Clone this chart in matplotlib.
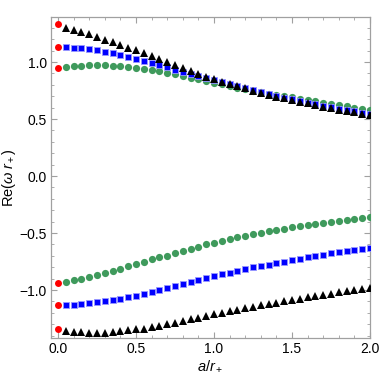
import matplotlib
matplotlib.use("Agg")
import matplotlib.pyplot as plt
from matplotlib.ticker import MultipleLocator

plt.rcParams['font.family'] = ['Liberation Sans', 'DejaVu Sans']
plt.rcParams['mathtext.fontset'] = 'custom'
plt.rcParams['mathtext.rm'] = 'Liberation Sans'
plt.rcParams['mathtext.it'] = 'Liberation Sans:italic'

# spin values a/r+ (0.05 .. 2.0)
a = [round(0.05 * k, 2) for k in range(1, 41)]

# upper branch
green_up = [0.956, 0.962, 0.968, 0.971, 0.971, 0.971, 0.968, 0.965, 0.959, 0.950,
            0.941, 0.932, 0.921, 0.908, 0.894, 0.879, 0.864, 0.849, 0.834, 0.819,
            0.804, 0.789, 0.775, 0.761, 0.747, 0.735, 0.722, 0.710, 0.699, 0.689,
            0.678, 0.667, 0.656, 0.645, 0.635, 0.625, 0.612, 0.600, 0.590, 0.580]
blue_up = [1.129, 1.126, 1.120, 1.111, 1.102, 1.090, 1.076, 1.061, 1.044, 1.026,
           1.009, 0.991, 0.971, 0.953, 0.934, 0.914, 0.895, 0.876, 0.858, 0.840,
           0.822, 0.804, 0.786, 0.769, 0.752, 0.735, 0.718, 0.702, 0.687, 0.672,
           0.658, 0.644, 0.630, 0.617, 0.604, 0.592, 0.580, 0.568, 0.557, 0.546]
black_up = [1.295, 1.278, 1.261, 1.243, 1.219, 1.196, 1.173, 1.149, 1.126, 1.103,
            1.076, 1.053, 1.029, 1.002, 0.975, 0.948, 0.922, 0.897, 0.873, 0.851,
            0.829, 0.808, 0.788, 0.768, 0.749, 0.731, 0.713, 0.697, 0.682, 0.667,
            0.652, 0.637, 0.622, 0.608, 0.594, 0.582, 0.570, 0.558, 0.546, 0.535]

# lower branch
green_lo = [-0.930, -0.915, -0.904, -0.886, -0.868, -0.848, -0.831, -0.813, -0.792, -0.772,
            -0.752, -0.730, -0.712, -0.697, -0.678, -0.656, -0.637, -0.620, -0.600, -0.585,
            -0.570, -0.553, -0.538, -0.524, -0.509, -0.496, -0.482, -0.471, -0.461, -0.450,
            -0.439, -0.428, -0.418, -0.409, -0.400, -0.392, -0.383, -0.375, -0.367, -0.360]
blue_lo = [-1.130, -1.128, -1.125, -1.117, -1.108, -1.098, -1.087, -1.075, -1.062, -1.049,
           -1.035, -1.015, -0.995, -0.978, -0.960, -0.943, -0.927, -0.910, -0.893, -0.877,
           -0.862, -0.847, -0.831, -0.816, -0.801, -0.789, -0.777, -0.763, -0.750, -0.737,
           -0.725, -0.713, -0.702, -0.690, -0.679, -0.669, -0.660, -0.651, -0.640, -0.630]
black_lo = [-1.360, -1.366, -1.371, -1.374, -1.374, -1.372, -1.367, -1.361, -1.353, -1.345,
            -1.337, -1.326, -1.314, -1.300, -1.285, -1.270, -1.256, -1.242, -1.228, -1.214,
            -1.200, -1.186, -1.173, -1.160, -1.147, -1.134, -1.121, -1.109, -1.097, -1.086,
            -1.074, -1.063, -1.052, -1.042, -1.031, -1.021, -1.011, -1.001, -0.991, -0.981]

# static (a = 0) values
a0 = [0.0] * 6
red_vals = [1.33, 1.13, 0.947, -0.941, -1.13, -1.342]

green = '#3f9a5c'

fig = plt.figure(figsize=(3.9, 3.75), dpi=100)
ax = fig.add_axes([0.1308, 0.0987, 0.8179, 0.856])

for ys in (green_up, green_lo):
    ax.plot(a, ys, 'o', color=green, ms=5.2, mew=0, zorder=3)
for ys in (blue_up, blue_lo):
    ax.plot(a, ys, 's', color='#0000ff', ms=4.8, mew=0.6, mec='#9999ff', zorder=4)
for ys in (black_up, black_lo):
    ax.plot(a, ys, '^', color='black', ms=5.6, mew=0, zorder=5)
ax.plot(a0, red_vals, 'o', color='#ff0000', ms=5, mew=0, zorder=6)

ax.set_xlim(-0.045, 2.0)
ax.set_ylim(-1.42, 1.395)
ax.xaxis.set_major_locator(MultipleLocator(0.5))
ax.xaxis.set_minor_locator(MultipleLocator(0.1))
ax.yaxis.set_major_locator(MultipleLocator(0.5))
ax.yaxis.set_minor_locator(MultipleLocator(0.1))
ax.xaxis.set_major_formatter(plt.FuncFormatter(lambda v, p: f"{v:.1f}".replace('-', '\u2212')))
ax.yaxis.set_major_formatter(plt.FuncFormatter(lambda v, p: f"{v:.1f}".replace('-', '\u2212')))

for s in ax.spines.values():
    s.set_color('#a0a0a0')
    s.set_linewidth(0.9)
ax.tick_params(which='both', direction='in', top=True, right=True, color='#a0a0a0',
               labelsize=10, labelcolor='black', pad=3)
ax.tick_params(which='major', length=4, width=0.8)
ax.tick_params(which='minor', length=2.2, width=0.6)

ax.set_xlabel(r'$a/r_+$', fontsize=10.5, labelpad=2)
ax.set_ylabel(r'Re$(\omega\;r_+)$', fontsize=10.5, labelpad=1)

fig.savefig('out.png', dpi=100)
